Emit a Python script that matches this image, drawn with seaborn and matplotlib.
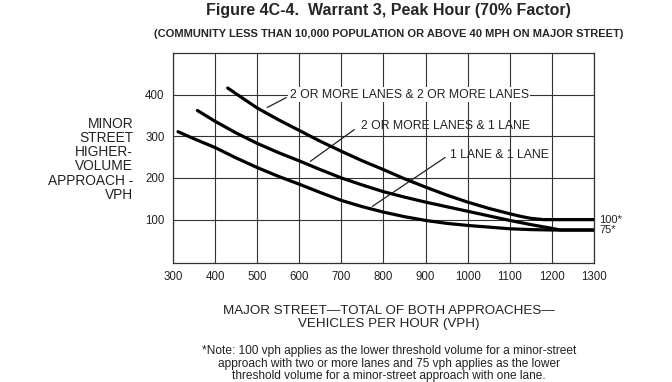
import matplotlib
matplotlib.use("Agg")
import matplotlib.pyplot as plt
import seaborn as sns
import pandas as pd

# curve values (x = major street vph, y = minor street vph)
two_two_x = [430, 450, 500, 550, 600, 650, 700, 750, 800, 850, 900, 950, 1000, 1050, 1100, 1125, 1150, 1180, 1300]
two_two_y = [416, 402, 368, 340, 314, 288, 264, 241, 220, 198, 178, 159, 142, 127, 114, 108, 103, 100, 100]

two_one_x = [358, 400, 450, 500, 550, 600, 650, 700, 750, 800, 850, 900, 950, 1000, 1050, 1100, 1150, 1200, 1220, 1300]
two_one_y = [362, 336, 308, 283, 261, 241, 220, 200, 183, 167, 154, 142, 131, 120, 109, 98, 88, 79, 75, 75]

one_one_x = [312, 350, 400, 450, 500, 550, 600, 650, 700, 750, 800, 850, 900, 950, 1000, 1050, 1100, 1150, 1200, 1300]
one_one_y = [311, 294, 273, 248, 225, 204, 185, 165, 146, 131, 118, 107, 98, 91, 86, 82, 78, 76, 75, 75]

x_ticks = [300, 400, 500, 600, 700, 800, 900, 1000, 1100, 1200, 1300]
y_ticks = [100, 200, 300, 400]

df = pd.concat([
    pd.DataFrame({"major": two_two_x, "minor": two_two_y, "curve": "2&2"}),
    pd.DataFrame({"major": two_one_x, "minor": two_one_y, "curve": "2&1"}),
    pd.DataFrame({"major": one_one_x, "minor": one_one_y, "curve": "1&1"}),
])

sns.set_style("white")
plt.rcParams["font.family"] = ["Liberation Sans", "DejaVu Sans"]

fig = plt.figure(figsize=(6.72, 3.82), dpi=100)
ax = fig.add_axes([0.2574, 0.3128, 0.6265, 0.5485])

sns.lineplot(data=df, x="major", y="minor", hue="curve", sort=False,
             palette=["black", "black", "black"], linewidth=2.3, legend=False,
             ax=ax, zorder=4)

ax.set_xlim(300, 1300)
ax.set_ylim(-3, 500)
ax.set_xticks(x_ticks)
ax.set_yticks(y_ticks)
ax.grid(True, color="#333333", linewidth=0.8)
for s in ax.spines.values():
    s.set_color("#333333")
    s.set_linewidth(0.9)
ax.tick_params(labelsize=8.3, length=0, pad=6, colors="#222222")
ax.set_xlabel("")
ax.set_ylabel("")

txt = dict(fontsize=8.8, color="#222222", va="center")
ax.text(577, 400, "2 OR MORE LANES & 2 OR MORE LANES", zorder=5,
        bbox=dict(facecolor="white", edgecolor="none", pad=1.0), **txt)
ax.text(746, 325, "2 OR MORE LANES & 1 LANE", zorder=5, **txt)
ax.text(957, 255, "1 LANE & 1 LANE", zorder=5, **txt)
arrow = dict(arrowstyle="-", color="#222222", lw=0.9)
ax.annotate("", xy=(518, 366), xytext=(575, 396), arrowprops=arrow, zorder=6)
ax.annotate("", xy=(621, 236), xytext=(736, 320), arrowprops=arrow)
ax.annotate("", xy=(768, 128), xytext=(952, 253), arrowprops=arrow)

ax.text(1312, 100, "100*", fontsize=8, va="center", clip_on=False, color="#222222")
ax.text(1312, 75, "75*", fontsize=8, va="center", clip_on=False, color="#222222")

fig.text(0.578, 0.972, "Figure 4C-4.  Warrant 3, Peak Hour (70% Factor)",
         fontsize=11.5, fontweight="bold", ha="center", va="center")
fig.text(0.579, 0.911, "(COMMUNITY LESS THAN 10,000 POPULATION OR ABOVE 40 MPH ON MAJOR STREET)",
         fontsize=8.0, fontweight="bold", ha="center", va="center")

fig.text(0.198, 0.583, "MINOR\nSTREET\nHIGHER-\nVOLUME\nAPPROACH -\nVPH",
         fontsize=9.9, ha="right", va="center", linespacing=1.02, color="#222222")
fig.text(0.579, 0.168, "MAJOR STREET\u2014TOTAL OF BOTH APPROACHES\u2014\nVEHICLES PER HOUR (VPH)",
         fontsize=9.6, ha="center", va="center", linespacing=1.08, color="#222222")
fig.text(0.579, 0.048, "*Note: 100 vph applies as the lower threshold volume for a minor-street\n"
         "approach with two or more lanes and 75 vph applies as the lower\n"
         "threshold volume for a minor-street approach with one lane.",
         fontsize=8.6, ha="center", va="center", linespacing=1.08, color="#222222")

fig.savefig("out.png", dpi=100)
